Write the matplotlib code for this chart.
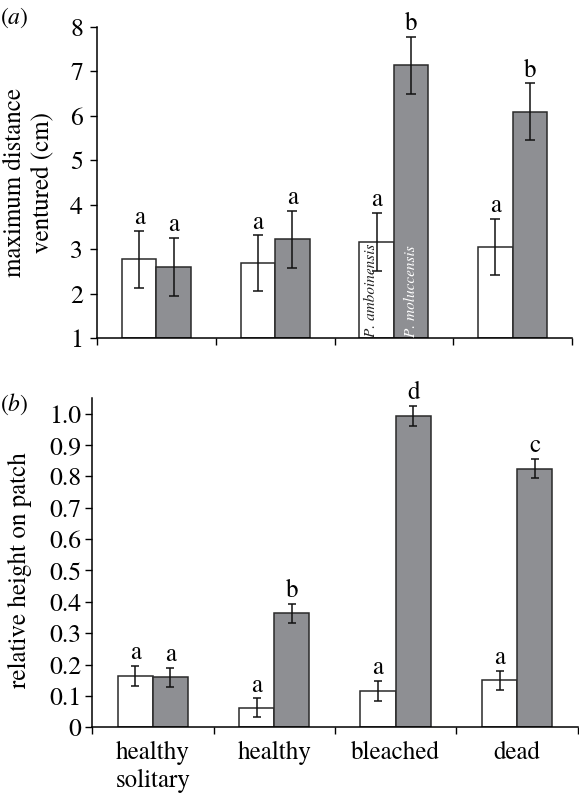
import numpy as np
import matplotlib
matplotlib.use('Agg')
import matplotlib.pyplot as plt

plt.rcParams['font.family'] = ['TeX Gyre Termes', 'Liberation Serif', 'DejaVu Serif']
plt.rcParams['mathtext.fontset'] = 'custom'
plt.rcParams['mathtext.rm'] = 'TeX Gyre Termes'
plt.rcParams['mathtext.it'] = 'TeX Gyre Termes:italic'

# Data
categories = ['healthy\nsolitary', 'healthy', 'bleached', 'dead']
species = ['P. amboinensis', 'P. moluccensis']

dist_ambo = [2.77, 2.68, 3.17, 3.05]
dist_ambo_err = [0.65, 0.63, 0.65, 0.64]
dist_molu = [2.60, 3.22, 7.14, 6.09]
dist_molu_err = [0.65, 0.64, 0.64, 0.64]
dist_ambo_lett = ['a', 'a', 'a', 'a']
dist_molu_lett = ['a', 'a', 'b', 'b']

height_ambo = [0.163, 0.062, 0.115, 0.150]
height_ambo_err = [0.032, 0.030, 0.032, 0.030]
height_molu = [0.159, 0.364, 0.993, 0.825]
height_molu_err = [0.031, 0.030, 0.031, 0.030]
height_ambo_lett = ['a', 'a', 'a', 'a']
height_molu_lett = ['a', 'b', 'd', 'c']

gray = '#8e8f93'
edge = '#2a2a2a'
w = 0.29
fs = 18
x = np.arange(len(categories))

fig = plt.figure(figsize=(5.79, 7.95), dpi=100)
ax1 = fig.add_axes([0.1675, 0.5748, 0.8205, 0.3912])
ax2 = fig.add_axes([0.159, 0.0852, 0.839, 0.4142])


def draw(ax, ambo, ambo_err, molu, molu_err, lett_a, lett_m, bottom, capsize, ypad):
    ax.bar(x - w / 2, np.array(ambo) - bottom, w, bottom=bottom, color='white',
           edgecolor=edge, linewidth=1.1, zorder=2)
    ax.bar(x + w / 2, np.array(molu) - bottom, w, bottom=bottom, color=gray,
           edgecolor=edge, linewidth=1.1, zorder=2)
    ax.errorbar(x - w / 2, ambo, yerr=ambo_err, fmt='none', ecolor='#111111',
                elinewidth=1.1, capsize=capsize, capthick=1.1, zorder=3)
    ax.errorbar(x + w / 2, molu, yerr=molu_err, fmt='none', ecolor='#111111',
                elinewidth=1.1, capsize=capsize, capthick=1.1, zorder=3)
    for i in range(len(x)):
        ax.annotate(lett_a[i], (x[i] - w / 2, ambo[i] + ambo_err[i]),
                    xytext=(0, 0.5), textcoords='offset points',
                    ha='center', va='bottom', fontsize=fs)
        ax.annotate(lett_m[i], (x[i] + w / 2, molu[i] + molu_err[i]),
                    xytext=(0, 0.5), textcoords='offset points',
                    ha='center', va='bottom', fontsize=fs)
    ax.set_xlim(-0.5, 3.5)
    ax.spines['top'].set_visible(False)
    ax.spines['right'].set_visible(False)
    ax.set_xticks(np.arange(-0.5, 4, 1))
    ax.set_xticklabels([])
    ax.tick_params(axis='x', direction='out', length=5, width=1)
    ax.tick_params(axis='y', direction='out', length=5, width=1, labelsize=18.5, pad=ypad)
    for s in ['left', 'bottom']:
        ax.spines[s].set_linewidth(1.1)


draw(ax1, dist_ambo, dist_ambo_err, dist_molu, dist_molu_err,
     dist_ambo_lett, dist_molu_lett, 1, 3.3, 5)
ax1.set_ylim(1, 8)
ax1.set_yticks(range(1, 9))
ax1.set_ylabel('maximum distance\nventured (cm)', fontsize=fs, linespacing=1.15)
ax1.yaxis.set_label_coords(-0.09, 0.5)

# species names inside the bleached bars
ax1.text(2 - w + 0.33 * w, 1.03, species[0], rotation=90, ha='center', va='bottom',
         fontsize=11, style='italic', color='#222222', zorder=4)
ax1.text(2 + 0.5 * w, 1.03, species[1], rotation=90, ha='center', va='bottom',
         fontsize=11, style='italic', color='white', zorder=4)

draw(ax2, height_ambo, height_ambo_err, height_molu, height_molu_err,
     height_ambo_lett, height_molu_lett, 0, 2.6, 2.5)
ax2.set_ylim(0, 1.05)
ax2.set_yticks(np.arange(0, 1.01, 0.1))
ax2.set_yticklabels(['0'] + ['%.1f' % v for v in np.arange(0.1, 1.01, 0.1)])
ax2.set_ylabel('relative height on patch', fontsize=fs)
ax2.yaxis.set_label_coords(-0.123, 0.477)
ax2.set_xticks(x, minor=True)
ax2.set_xticklabels(categories, minor=True, fontsize=fs, linespacing=1.2)
ax2.tick_params(axis='x', which='minor', length=0, pad=10)

fig.text(0.0, 0.978, r'($\mathit{a}$)', fontsize=17, ha='left', va='center')
fig.text(0.0, 0.492, r'($\mathit{b}$)', fontsize=17, ha='left', va='center')

fig.savefig('out.png', dpi=100)
